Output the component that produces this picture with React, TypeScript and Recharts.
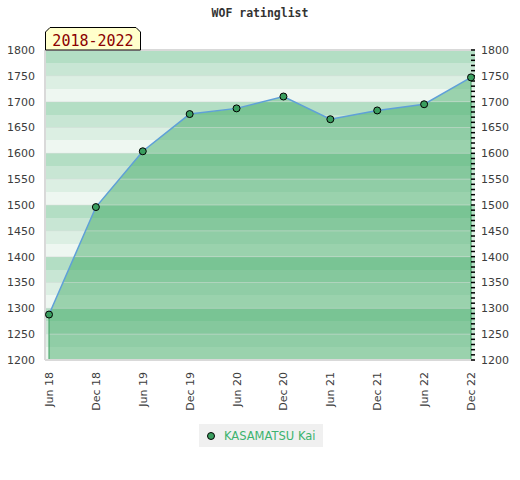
import React from 'react';
import {
  ComposedChart,
  Area,
  Line,
  XAxis,
  YAxis,
  CartesianGrid,
  ReferenceLine,
  Legend,
} from 'recharts';

const periods = ['Jun 18', 'Dec 18', 'Jun 19', 'Dec 19', 'Jun 20', 'Dec 20', 'Jun 21', 'Dec 21', 'Jun 22', 'Dec 22'];
const ratings = [1288, 1496, 1604, 1676, 1687, 1710, 1666, 1683, 1695, 1747];
const yTicks = [1200, 1250, 1300, 1350, 1400, 1450, 1500, 1550, 1600, 1650, 1700, 1750, 1800];
const gridLevels = [1250, 1300, 1350, 1400, 1450, 1500, 1550, 1600, 1650, 1700, 1750];
const stripeLevels = [
  1800, 1775, 1750, 1725, 1700, 1675, 1650, 1625, 1600, 1575, 1550, 1525,
  1500, 1475, 1450, 1425, 1400, 1375, 1350, 1325, 1300, 1275, 1250, 1225,
];
const stripeColors = ['#b3dec4', '#c8e6d4', '#dcefe3', '#eef7f1'];
const minorTicks: number[] = Array.from({ length: 61 }, (_, i) => 1200 + i * 10);
const playerName = 'KASAMATSU Kai';
const chartTitle = 'WOF ratinglist';
const periodLabel = '2018-2022';

const data = periods.map((p, i) => ({ period: p, rating: ratings[i] }));

const DOMAIN: [number, number] = [1200, 1800];
const TEXT = '#3c3c3c';
const FONT = '"DejaVu Sans", sans-serif';

const XTick = (props: any) => {
  const { x, y, payload } = props;
  return (
    <text
      x={x}
      y={y}
      transform={`rotate(-90 ${x} ${y})`}
      textAnchor="end"
      dy={4}
      fontSize={11}
      fontFamily={FONT}
      fill={TEXT}
    >
      {payload.value}
    </text>
  );
};

const EmptyTick = () => <g />;

const LegendContent = (props: any) => {
  const items = (props.payload || []).filter((p: any) => p.type !== 'none');
  return (
    <div style={{ display: 'flex' }}>
      {items.map((it: any) => (
        <div
          key={it.value}
          style={{
            background: '#f0f0f0',
            display: 'flex',
            alignItems: 'center',
            padding: '3px 8px 3px 7px',
            fontFamily: FONT,
            fontSize: 11.5,
            color: '#3cb36e',
            height: 17,
          }}
        >
          <svg width={10} height={10} style={{ marginRight: 8 }}>
            <circle cx={5} cy={5} r={3.5} fill="#3a9e5f" stroke="#000" strokeWidth={1} />
          </svg>
          <span>{it.value}</span>
        </div>
      ))}
    </div>
  );
};

export default function App() {
  return (
    <div style={{ position: 'absolute', left: 0, top: 0, width: 520, height: 480, background: '#fff' }}>
      <ComposedChart
        width={520}
        height={480}
        data={data}
        margin={{ top: 50, right: 0, bottom: 0, left: 0 }}
      >
        <CartesianGrid
          yAxisId="left"
          vertical={false}
          horizontal={true}
          stroke="none"
          horizontalValues={stripeLevels}
          horizontalFill={stripeColors}
          fillOpacity={1}
        />
        <XAxis
          dataKey="period"
          type="category"
          scale="point"
          padding={{ left: 4, right: 4 }}
          height={120}
          tickLine={false}
          tickSize={6}
          tickMargin={6}
          axisLine={{ stroke: '#d9d9d9', strokeWidth: 2 }}
          tick={<XTick />}
          interval={0}
        />
        <YAxis
          yAxisId="left"
          orientation="left"
          width={45}
          domain={DOMAIN}
          ticks={yTicks}
          interval={0}
          tickLine={false}
          tickSize={6}
          tickMargin={4}
          axisLine={{ stroke: '#d9d9d9', strokeWidth: 2 }}
          tick={{ fontSize: 11, fontFamily: FONT, fill: TEXT }}
        />
        <YAxis
          yAxisId="right"
          orientation="right"
          width={45}
          domain={DOMAIN}
          ticks={yTicks}
          interval={0}
          tickLine={false}
          tickSize={4}
          tickMargin={2}
          axisLine={false}
          tick={{ fontSize: 11, fontFamily: FONT, fill: TEXT, textAnchor: 'start' }}
        />
        <YAxis
          yAxisId="minor"
          orientation="right"
          mirror
          width={1}
          domain={DOMAIN}
          ticks={minorTicks}
          interval={0}
          tick={<EmptyTick />}
          tickSize={4}
          axisLine={false}
          tickLine={{ stroke: '#000', strokeWidth: 1.5 }}
        />
        {gridLevels.map((v) => (
          <ReferenceLine key={v} yAxisId="left" y={v} stroke="#dcdfdd" strokeOpacity={0.5} strokeWidth={1} />
        ))}
        <ReferenceLine yAxisId="left" y={1800} stroke="#d9d9d9" strokeWidth={2} />
        <Area
          yAxisId="left"
          dataKey="rating"
          type="linear"
          fill="#32a55a"
          fillOpacity={0.45}
          stroke="none"
          legendType="none"
          isAnimationActive={false}
        />
        <Line
          yAxisId="right"
          dataKey="rating"
          stroke="none"
          dot={false}
          activeDot={false}
          legendType="none"
          isAnimationActive={false}
        />
        <Line
          yAxisId="minor"
          dataKey="rating"
          stroke="none"
          dot={false}
          activeDot={false}
          legendType="none"
          isAnimationActive={false}
        />
        <ReferenceLine
          yAxisId="left"
          segment={[{ x: periods[0], y: DOMAIN[0] }, { x: periods[0], y: ratings[0] }]}
          stroke="#3a9e5f"
          strokeWidth={1}
        />
        <ReferenceLine
          yAxisId="left"
          segment={[
            { x: periods[periods.length - 1], y: DOMAIN[0] },
            { x: periods[periods.length - 1], y: ratings[ratings.length - 1] },
          ]}
          stroke="#3a9e5f"
          strokeWidth={1}
        />
        <Line
          yAxisId="left"
          dataKey="rating"
          name={playerName}
          type="linear"
          stroke="#5fa0d8"
          strokeWidth={1.5}
          dot={{ r: 3.5, fill: '#3a9e5f', stroke: '#000', strokeWidth: 1 }}
          activeDot={false}
          isAnimationActive={false}
        />
        <Legend
          layout="horizontal"
          verticalAlign="middle"
          align="center"
          content={<LegendContent />}
          wrapperStyle={{ top: 424, left: 199, width: 'auto', height: 'auto' }}
        />
      </ComposedChart>
      <svg
        width={520}
        height={60}
        style={{ position: 'absolute', left: 0, top: 0, pointerEvents: 'none' }}
      >
        <text
          x={260}
          y={17}
          textAnchor="middle"
          fontFamily='"DejaVu Sans Mono", monospace'
          fontWeight="bold"
          fontSize={11.5}
          fill="#333"
        >
          {chartTitle}
        </text>
        <path d="M45.5,50 L45.5,32 L50,27.5 L136,27.5 L140.5,32 L140.5,50 Z" fill="#ffffcc" stroke="#000" strokeWidth={1} />
        <text
          x={93}
          y={45.5}
          textAnchor="middle"
          fontFamily='"DejaVu Sans Mono", monospace'
          fontSize={15}
          fill="#8b0000"
        >
          {periodLabel}
        </text>
      </svg>
    </div>
  );
}
